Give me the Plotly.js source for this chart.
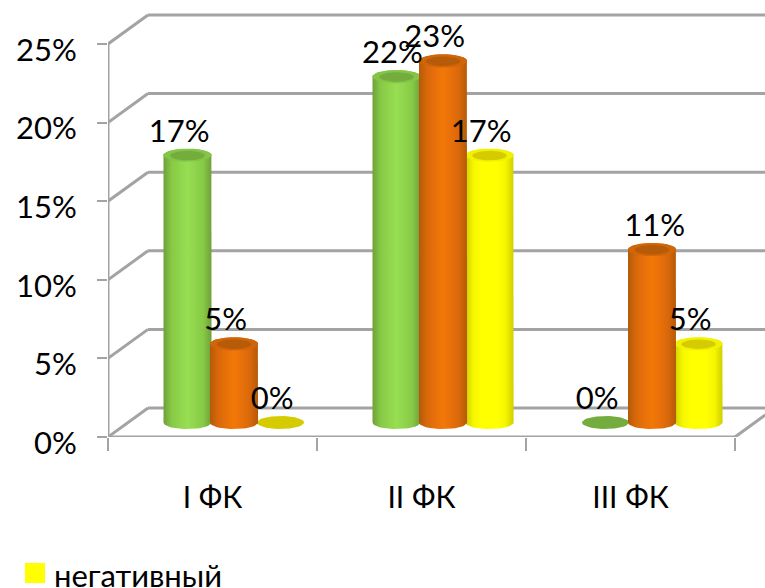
<!DOCTYPE html>
<html>
<head>
<meta charset="utf-8">
<script src="https://cdn.plot.ly/plotly-3.0.1.min.js"></script>
<style>html,body{margin:0;padding:0;background:#fff}#chart{width:765px;height:588px}</style>
</head>
<body>
<div id="chart"></div>
<script>
// Functional class groups and percentages per attitude series
const categories = ['I ФК', 'II ФК', 'III ФК'];
const greenValues = [17, 22, 0];
const orangeValues = [5, 23, 11];
const yellowValues = [0, 17, 5];
const valueTicks = [0, 5, 10, 15, 20, 25];
const legendLabel = 'негативный';

const FONT = 'Lato, "Open Sans", sans-serif';
const WALL = '#a3a3a3';

// Oblique depth of the pseudo-3D box, in axis units
const DEPTH_X = 0.1914, DEPTH_Y = 1.845;
const FLOOR_Y = DEPTH_Y / 2;
const ROW_SHIFT = 0.103;
const BAR_STEP = 0.2225, RADIUS_X = 0.115, RADIUS_Y = 0.42;

const styles = [
  {name: 'green', values: greenValues, slot: -1, base: '#8ed24a', stops: ['#6f9f3a', '#86c945', '#90d44c', '#97de52', '#90d44c', '#86c945', '#6f9f3a'], rim: '#84c547', inner: '#74ad3e', nudge: [0, 0.02, 0]},
  {name: 'yellow', values: yellowValues, slot: 1, base: '#ffff00', stops: ['#cfcf00', '#f6f600', '#ffff00', '#ffff00', '#ffff00', '#f6f600', '#cfcf00'], rim: '#f2f200', inner: '#d4cc00', nudge: [0, 0, 0]},
  {name: 'orange', values: orangeValues, slot: 0, base: '#e56c08', stops: ['#b55a08', '#d8680a', '#e8700a', '#f27806', '#e8700a', '#d8680a', '#b55a08'], rim: '#d0650a', inner: '#b65c08', nudge: [0, 0, 0.053]}
];

const slotX = (cat, slot) => cat + 0.5 + ROW_SHIFT + slot * BAR_STEP;

function scale(stops) {
  return stops.map((c, i) => [i / (stops.length - 1), c]);
}

// Outline of a cylinder side: down the left edge, round the front of the base, up the right edge
function bodyPath(cx, top) {
  const xs = [], ys = [];
  for (let i = 0; i <= 24; i++) {
    const a = Math.PI * i / 24;
    xs.push(cx - RADIUS_X * Math.cos(a));
    ys.push(FLOOR_Y - RADIUS_Y * Math.sin(a));
  }
  for (let i = 0; i <= 24; i++) {
    const a = Math.PI * i / 24;
    xs.push(cx + RADIUS_X * Math.cos(a));
    ys.push(top + RADIUS_Y * Math.sin(a));
  }
  xs.push(xs[0]); ys.push(ys[0]);
  return {x: xs, y: ys};
}

function ellipsePath(cx, cy, k) {
  const xs = [], ys = [];
  for (let i = 0; i <= 48; i++) {
    const a = 2 * Math.PI * i / 48;
    xs.push(cx + k * RADIUS_X * Math.cos(a));
    ys.push(cy + k * RADIUS_Y * Math.sin(a));
  }
  return {x: xs, y: ys};
}

const traces = [];

// Plain bars carry the series values at the cylinder positions
styles.forEach(s => {
  traces.push({
    type: 'bar',
    name: s.name,
    x: s.values.map((_, c) => slotX(c, s.slot)),
    y: s.values,
    base: s.values.map(() => FLOOR_Y),
    width: RADIUS_X * 1.9,
    marker: {color: s.base, line: {width: 0}},
    hoverinfo: 'skip',
    showlegend: false
  });
});

// Shaded sides and top caps, back to front
styles.forEach(s => {
  s.values.forEach((v, c) => {
    const cx = slotX(c, s.slot);
    const top = FLOOR_Y + v;
    const shape = bodyPath(cx, top);
    if (v > 0) {
      traces.push({
        type: 'scatter', mode: 'lines', x: shape.x, y: shape.y,
        fill: 'toself', line: {width: 0},
        fillgradient: {type: 'horizontal', colorscale: scale(s.stops), start: cx - RADIUS_X, stop: cx + RADIUS_X},
        hoverinfo: 'skip', showlegend: false
      });
    }
    // A flat, empty cylinder shows only its darker disc
    const rim = ellipsePath(cx, top, v > 0 ? 1 : 0.98);
    traces.push({type: 'scatter', mode: 'lines', x: rim.x, y: rim.y, fill: 'toself', fillcolor: v > 0 ? s.rim : s.inner, line: {width: 0}, hoverinfo: 'skip', showlegend: false});
    if (v > 0) {
      const inner = ellipsePath(cx, top - 0.02, 0.72);
      traces.push({type: 'scatter', mode: 'lines', x: inner.x, y: inner.y, fill: 'toself', fillcolor: s.inner, line: {width: 0}, hoverinfo: 'skip', showlegend: false});
    }
  });
});

// Percentage labels above each cylinder
styles.forEach(s => {
  traces.push({
    type: 'scatter', mode: 'text',
    x: s.values.map((_, c) => slotX(c, s.slot) - 0.04 + s.nudge[c]),
    y: s.values.map(v => FLOOR_Y + v + 1.35),
    text: s.values.map(v => v + '%'),
    textposition: 'middle center',
    textfont: {family: FONT, size: 31, color: '#000'},
    hoverinfo: 'skip', showlegend: false, cliponaxis: false
  });
});

// Box outline: back wall gridlines, receding edges, front axes
const wallLine = {color: WALL, width: 3};
const shapes = [];
valueTicks.forEach(t => {
  shapes.push({type: 'line', layer: 'below', xref: 'x', yref: 'y', x0: DEPTH_X, x1: 3 + DEPTH_X, y0: t + DEPTH_Y, y1: t + DEPTH_Y, line: wallLine});
  shapes.push({type: 'line', layer: 'below', xref: 'x', yref: 'y', x0: 0, x1: DEPTH_X, y0: t, y1: t + DEPTH_Y, line: wallLine});
});
shapes.push({type: 'line', layer: 'below', xref: 'x', yref: 'y', x0: 3, x1: 3 + DEPTH_X, y0: 0, y1: DEPTH_Y, line: wallLine});
shapes.push({type: 'line', layer: 'below', xref: 'x', yref: 'y', x0: 0, x1: 0, y0: 0, y1: 25, line: wallLine});
shapes.push({type: 'line', layer: 'below', xref: 'x', yref: 'y', x0: 0, x1: 3, y0: 0, y1: 0, line: wallLine});
// Legend swatch
shapes.push({type: 'rect', xref: 'paper', yref: 'paper', x0: -0.1263, x1: -0.0959, y0: -0.342, y1: -0.295, fillcolor: '#ffff00', line: {width: 0}});

const layout = {
  width: 765, height: 588,
  margin: {l: 108, r: 0, t: 10, b: 151},
  paper_bgcolor: '#fff', plot_bgcolor: '#fff',
  barmode: 'overlay',
  showlegend: false,
  xaxis: {
    range: [0, 3.1435], showgrid: false, zeroline: false, showline: false,
    tickmode: 'array', tickvals: [0.5, 1.5, 2.5], ticktext: categories,
    ticks: '', ticklabelstandoff: 40,
    tickfont: {family: FONT, size: 30, color: '#000'},
    minor: {tickmode: 'array', tickvals: [0, 1, 2, 3], ticks: 'outside', ticklen: 13, tickwidth: 2, tickcolor: WALL, showgrid: false}
  },
  yaxis: {
    range: [0, 27.16], showgrid: false, zeroline: false, showline: false,
    tickmode: 'array', tickvals: valueTicks, ticktext: valueTicks.map(v => v + '%'),
    ticks: 'outside', ticklen: 10, tickwidth: 2, tickcolor: WALL,
    ticklabelstandoff: 14, ticklabelshift: 6,
    tickfont: {family: FONT, size: 31, color: '#000'}
  },
  shapes: shapes,
  annotations: [{
    xref: 'paper', yref: 'paper', x: -0.085, y: -0.323, xanchor: 'left', yanchor: 'middle',
    text: legendLabel, showarrow: false,
    font: {family: FONT, size: 31, color: '#000'}
  }]
};

Plotly.newPlot('chart', traces, layout, {displayModeBar: false, staticPlot: true});
</script>
</body>
</html>
